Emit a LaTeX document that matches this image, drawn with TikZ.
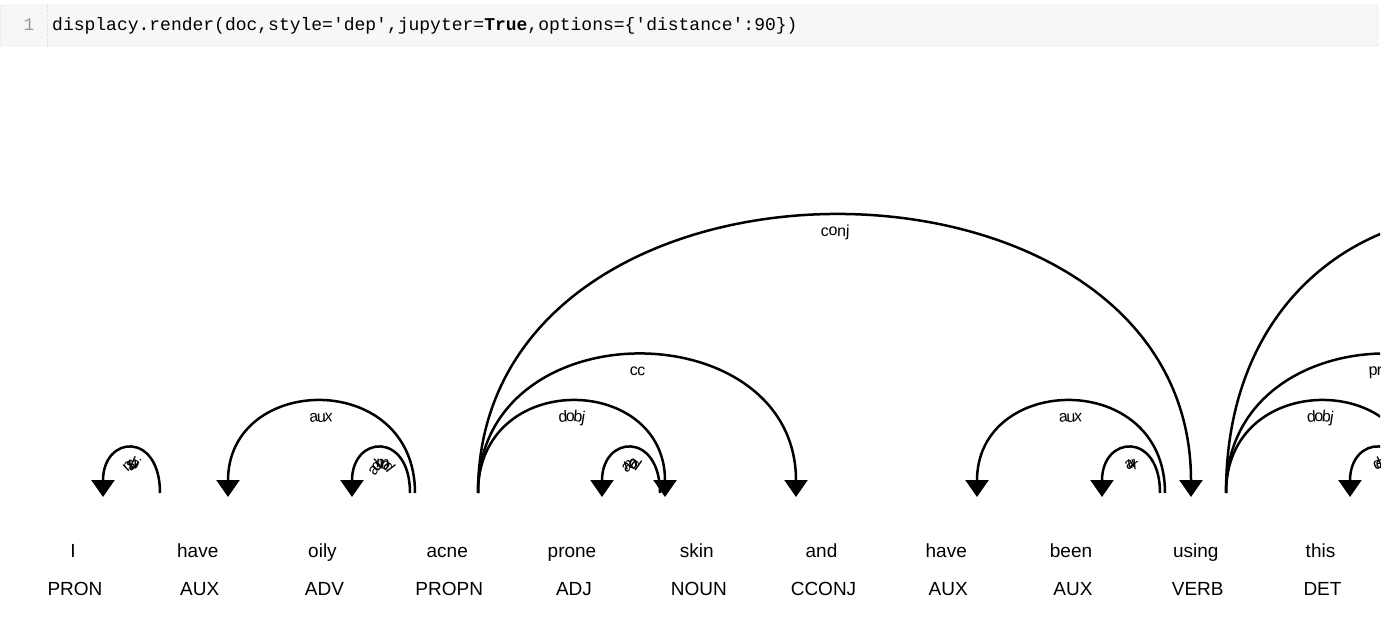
\documentclass[tikz,border=0pt]{standalone}
\usepackage{fontspec}
\setmainfont{Liberation Sans}
\newfontfamily\codefont{Liberation Mono}
\usetikzlibrary{arrows.meta,decorations.text}
\definecolor{codebg}{HTML}{F7F7F7}
\definecolor{codeline}{HTML}{D6D6D6}
\definecolor{linenocol}{HTML}{999999}
\tikzset{
	word/.style={font=\fontsize{19}{19}\selectfont,anchor=base,inner sep=0pt},
	deparc/.style={line width=2.5pt},
	arrowleft/.style={deparc,{Triangle[width=23pt,length=17pt]}-},
	arrowright/.style={deparc,-{Triangle[width=23pt,length=17pt]}},
	lab/.style={postaction={decorate,decoration={text along path,text align=center,raise=-20pt,
		text={|\fontsize{16}{16}\selectfont|#1}}}}
}

\begin{document}
\begin{tikzpicture}[x=1pt,y=-1pt]
\useasboundingbox (0,0) rectangle (1400,620);
% code cell
\draw[draw=codeline,fill=codebg,rounded corners=2pt] (0.5,5) rectangle (1378,46);
\draw[codeline,dotted] (47,5) -- (47,46);
\node[anchor=base,inner sep=0pt,text=linenocol,font=\codefont\fontsize{18}{18}\selectfont] (lineno) at (29,31) {1};
\node[anchor=base west,inner sep=0pt,font=\codefont\fontsize{18}{18}\selectfont] (code) at (52,31)
	{displacy.render(doc,style='dep',jupyter=\textbf{True},options=\{'distance':90\})};
% tokens and tags
\foreach \w/\t [count=\i] in {I/PRON,have/AUX,oily/ADV,acne/PROPN,prone/ADJ,skin/NOUN,
	and/CCONJ,have/AUX,been/AUX,using/VERB,this/DET}{
	\node[word] (w\i) at ({73+124.75*(\i-1)},557) {\w};
	\node[word] (t\i) at ({75+124.75*(\i-1)},595) {\t};
	}
% arc feet (tips at 497, tails at 493)
\foreach \n/\x/\y in {tipI/103/497,tailHave/160/493,tipHave/228/497,tailAcneA/415/493,
	tipOily/352/497,tailAcneB/410/493,tailAcne/478/493,tipSkin/665/497,tipProne/602/497,
	tailSkin/660/493,tipAnd/796/497,tipUsing/1191/497,tipHaveB/977/497,tailUsingA/1165/493,
	tipBeen/1102/497,tailUsingB/1160/493,tailUsing/1226/493,tipFar/1730/497,tipPrep/1540/497,
	tipProduct/1414/497,tipThis/1350/497,tailProduct/1408/493}
	\coordinate (\n) at (\x,\y);
\begin{scope}
\clip (0,50) rectangle (1380,620);
\foreach \a/\b/\lv/\side/\txt in {
	tipI/tailHave/1/arrowleft/nsubj,
	tipHave/tailAcneA/2/arrowleft/aux,
	tipOily/tailAcneB/1/arrowleft/advmod,
	tailAcne/tipSkin/2/arrowright/dobj,
	tipProne/tailSkin/1/arrowleft/amod,
	tailAcne/tipAnd/3/arrowright/cc,
	tailAcne/tipUsing/6/arrowright/conj,
	tipHaveB/tailUsingA/2/arrowleft/aux,
	tipBeen/tailUsingB/1/arrowleft/aux,
	tailUsing/tipPrep/3/arrowright/prep,
	tailUsing/tipProduct/2/arrowright/dobj,
	tipThis/tailProduct/1/arrowleft/det%
	}{
	\draw[\side,lab/.expanded=\txt] (\a) .. controls +(0,-62*\lv) and +(0,-62*\lv) .. (\b);
	}
\draw[arrowright] (tailUsing) .. controls +(0,-372) and +(0,-372) .. (tipFar);
\end{scope}
\end{tikzpicture}
\end{document}
